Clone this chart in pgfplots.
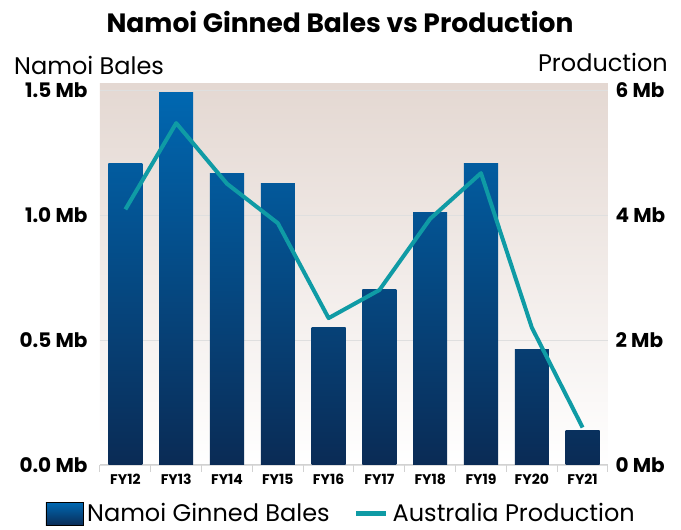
\documentclass[border=0pt]{standalone}
\usepackage{pgfplots}
\pgfplotsset{compat=1.18}
\usepackage{fontspec}
\setmainfont{Poppins}
\definecolor{barTop}{HTML}{0068B2}
\definecolor{barBot}{HTML}{0A2B55}
\definecolor{lineC}{HTML}{0F9BA5}
\definecolor{bgTop}{HTML}{E4D8D2}
\pgfplotsset{
  mybar/.style={ybar, bar width=0.67, bar shift=0pt, draw=none, forget plot,
    bottom color=barBot, top color=barTop!#1!barBot},
}
\begin{document}
\begin{tikzpicture}
\begin{axis}[name=ax1, scale only axis, width=508pt, height=381pt,
  xmin=-0.5, xmax=9.5, ymin=0, ymax=1.524,
  axis background/.style={top color=bgTop, bottom color=white},
  axis x line*=bottom, axis y line*=left,
  y axis line style={draw=none},
  x axis line style={draw=gray!35, line width=1pt},
  xtick={0,...,9},
  xticklabels={FY12,FY13,FY14,FY15,FY16,FY17,FY18,FY19,FY20,FY21},
  minor xtick={-0.5,0.5,...,9.5},
  major tick length=0pt,
  minor tick length=7pt,
  tick align=outside,
  minor x tick style={draw=gray!35, line width=1pt},
  xticklabel style={font=\bfseries\fontsize{14}{14}\selectfont, yshift=-6pt},
  ytick={0,0.5,1,1.5},
  yticklabels={0.0 Mb,0.5 Mb,1.0 Mb,1.5 Mb},
  yticklabel style={font=\bfseries\fontsize{20}{20}\selectfont, xshift=-9pt},
  ymajorgrids, grid style={gray!25, line width=0.8pt},
  /pgf/number format/assume math mode=true,
  legend style={at={(0.475,-0.128)}, anchor=center, draw=none, fill=none,
    legend columns=2, font=\fontsize{24}{24}\selectfont, inner sep=0pt,
    /tikz/every odd column/.append style={column sep=2pt},
    /tikz/every even column/.append style={column sep=22pt}},
]
\addplot[mybar=99] coordinates {(1,1.49)};
\addplot[mybar=80] coordinates {(0,1.205)};
\addplot[mybar=78] coordinates {(2,1.167)};
\addplot[mybar=75] coordinates {(3,1.127)};
\addplot[mybar=37] coordinates {(4,0.548)};
\addplot[mybar=47] coordinates {(5,0.70)};
\addplot[mybar=67] coordinates {(6,1.011)};
\addplot[mybar=80] coordinates {(7,1.205)};
\addplot[mybar=31] coordinates {(8,0.46)};
\addplot[mybar=9] coordinates {(9,0.136)};
\addlegendimage{legend image code/.code={\path[top color=barTop, bottom color=barBot] (0pt,-12pt) rectangle (37pt,11pt);}}
\addlegendentry{Namoi Ginned Bales}
\addlegendimage{legend image code/.code={\draw[lineC, line width=5pt] (0pt,0pt) -- (30pt,0pt);}}
\addlegendentry{Australia Production}
\end{axis}
\begin{axis}[name=ax2, scale only axis, width=508pt, height=381pt,
  xmin=-0.5, xmax=9.5, ymin=0, ymax=6.096,
  axis x line=none, axis y line*=right,
  y axis line style={draw=none},
  major tick length=0pt,
  ytick={0,2,4,6},
  yticklabels={0 Mb,2 Mb,4 Mb,6 Mb},
  yticklabel style={font=\bfseries\fontsize{20}{20}\selectfont, xshift=4pt},
  /pgf/number format/assume math mode=true,
]
\addplot[lineC, line width=4pt, line join=round] coordinates {
(0,4.09) (1,5.47) (2,4.5) (3,3.87) (4,2.35) (5,2.8) (6,3.94) (7,4.67) (8,2.2) (9,0.6)};
\end{axis}
\begin{scope}[shift={(ax1.south west)}, x=1pt, y=1pt]
\path (-100,-65) rectangle (581,465);
\node[font=\bfseries\fontsize{26.5}{26.5}\selectfont] at (240,443) {Namoi Ginned Bales vs Production};
\node[anchor=west, font=\fontsize{24}{24}\selectfont, inner sep=0pt] at (-86,400) {Namoi Bales};
\node[anchor=east, font=\fontsize{24}{24}\selectfont, inner sep=0pt] at (568,403) {Production};
\end{scope}
\end{tikzpicture}
\end{document}
